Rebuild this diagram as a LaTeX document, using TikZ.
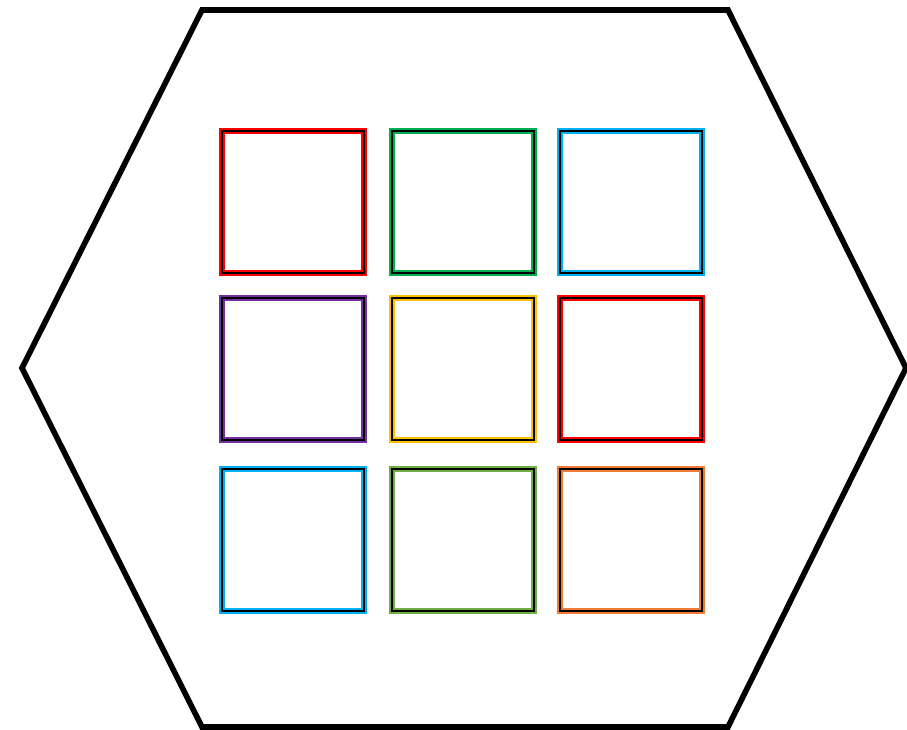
\documentclass[tikz,border=0pt]{standalone}
\usepackage{tikz}
\usetikzlibrary{calc}

\definecolor{cRed}{HTML}{FF0000}
\definecolor{cGreen}{HTML}{00B050}
\definecolor{cSky}{HTML}{00B0F0}
\definecolor{cPurple}{HTML}{7030A0}
\definecolor{cGold}{HTML}{FFC000}
\definecolor{cLeaf}{HTML}{70AD47}
\definecolor{cOrange}{HTML}{ED7D31}

\tikzset{
 cell/.style={draw=black, line width=1.1pt, inner sep=0pt, minimum size=2.84cm,
   preaction={draw=#1, line width=3pt}}
}

\begin{document}
\begin{tikzpicture}[x=0.02cm, y=-0.02cm]

\useasboundingbox (0,0) rectangle (907,730);

% outer hexagon
 \draw [line width=3.2pt] (202,10) -- (728,10) -- (906,368) -- (728,727) -- (202,727) -- (22,368) -- cycle;

% first row
\node[cell=cRed] (c11) at (293,202) {};
\node[cell=cGreen] (c12) at (463,202) {};
\node[cell=cSky] (c13) at (631,202) {};

% second row
\node[cell=cPurple] (c21) at (293,369) {};
\node[cell=cGold] (c22) at (463,369) {};
\node[cell=cRed] (c23) at (631,369) {};

% third row
\node[cell=cSky] (c31) at (293,540) {};
\node[cell=cLeaf] (c32) at (463,540) {};
\node[cell=cOrange] (c33) at (631,540) {};

\end{tikzpicture}
\end{document}
